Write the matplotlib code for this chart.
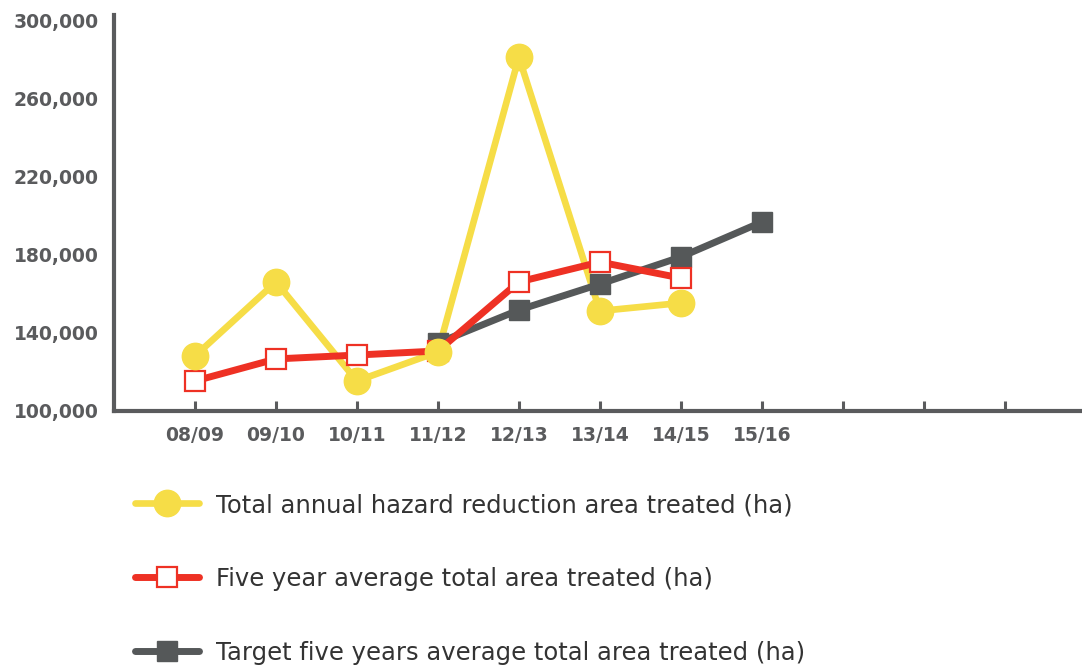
import matplotlib
matplotlib.use("Agg")
import matplotlib.pyplot as plt
from matplotlib.ticker import FuncFormatter

# ---- data ----
seasons = ["08/09", "09/10", "10/11", "11/12", "12/13", "13/14", "14/15", "15/16"]
annual_total = [127700, 165700, 114900, 129800, 281000, 150800, 154900]
five_year_avg = [114900, 126200, 128200, 130300, 165700, 175900, 167700]
target_seasons = ["11/12", "12/13", "13/14", "14/15", "15/16"]
target_avg = [134400, 151300, 164600, 178500, 196400]
y_ticks = [100000, 140000, 180000, 220000, 260000, 300000]
labels = ["Total annual hazard reduction area treated (ha)",
          "Five year average total area treated (ha)",
          "Target five years average total area treated (ha)"]

YELLOW = "#F6DD47"
RED = "#EE3124"
GREY = "#555859"
AXIS = "#5A5B5D"

fig = plt.figure(figsize=(10.82, 6.66), dpi=100)
ax = fig.add_axes([114/1082, (666-411)/666, (1080-114)/1082, (411-15)/666])

idx = {s: i for i, s in enumerate(seasons)}
x_annual = [idx[s] for s in seasons[:len(annual_total)]]
x_avg = [idx[s] for s in seasons[:len(five_year_avg)]]
x_target = [idx[s] for s in target_seasons]

ax.plot(x_annual, annual_total, color=YELLOW, lw=4.8, zorder=2, solid_capstyle="round")
ax.plot(x_target, target_avg, color=GREY, lw=5, marker="s", ms=14,
        mfc=GREY, mec=GREY, zorder=3)
ax.plot(x_avg, five_year_avg, color=RED, lw=5, marker="s", ms=14,
        mfc="white", mec=RED, mew=1.6, zorder=4)
ax.plot(x_annual, annual_total, ls="none", marker="o", ms=19,
        mfc=YELLOW, mec=YELLOW, zorder=5)

ax.set_xlim(-1, 10.93)
ax.set_ylim(99500, 302600)

for s in ["top", "right"]:
    ax.spines[s].set_visible(False)
for s in ["left", "bottom"]:
    ax.spines[s].set_color(AXIS)
    ax.spines[s].set_linewidth(3)

ax.set_xticks(range(0, 11))
ax.set_xticklabels(seasons + [""] * 3)
ax.tick_params(axis="x", direction="in", length=7, width=2.2, color=AXIS,
               pad=11, labelsize=13.5, labelcolor=AXIS)

ax.set_yticks(y_ticks)
ax.yaxis.set_major_formatter(FuncFormatter(lambda v, p: f"{int(v):,}"))
ax.tick_params(axis="y", which="major", length=0, pad=11, labelsize=13.5, labelcolor=AXIS)
ax.set_yticks([140000, 180000], minor=True)
ax.tick_params(axis="y", which="minor", direction="in", length=9, width=2.2, color=AXIS)
for t in ax.get_xticklabels() + ax.get_yticklabels():
    t.set_fontweight("bold")

# legend
h1 = plt.Line2D([], [], color=YELLOW, lw=4.8, marker="o", ms=19, mfc=YELLOW, mec=YELLOW,
                solid_capstyle="round")
h2 = plt.Line2D([], [], color=RED, lw=5, marker="s", ms=14, mfc="white", mec=RED, mew=1.6,
                solid_capstyle="round")
h3 = plt.Line2D([], [], color=GREY, lw=5, marker="s", ms=14, mfc=GREY, mec=GREY,
                solid_capstyle="round")
leg = fig.legend([h1, h2, h3], labels, loc="upper left",
                 bbox_to_anchor=(135/1082, 1-493/666), frameon=False,
                 borderpad=0, borderaxespad=0, handlelength=2.65, handletextpad=0.7,
                 labelspacing=2.05, fontsize=17.5, numpoints=1)
for t in leg.get_texts():
    t.set_color("#333333")

fig.savefig("out.png", dpi=100)
